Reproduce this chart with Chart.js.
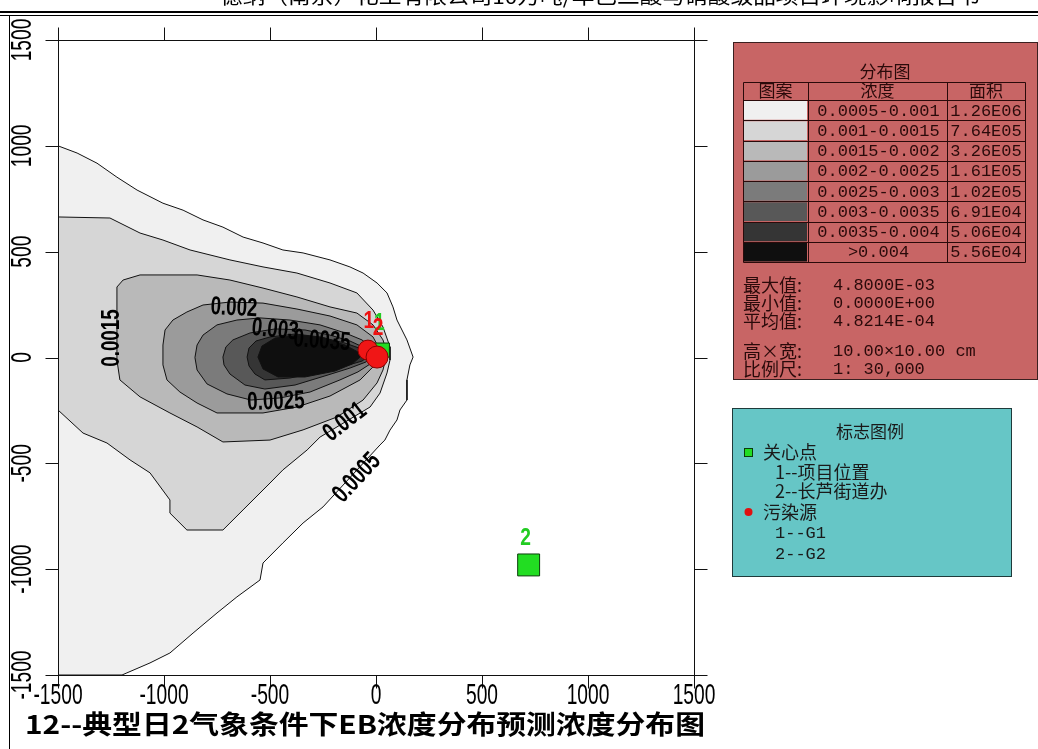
<!DOCTYPE html>
<html>
<head>
<meta charset="utf-8">
<script src="https://cdn.jsdelivr.net/npm/chart.js"></script>
<style>
  html, body { margin: 0; padding: 0; background: #fff; overflow: hidden; }
  canvas { display: block; }
</style>
</head>
<body>
<canvas id="map" width="1038" height="749"></canvas>
<script>
// ======= DATA =======
const xTicks = [-1500, -1000, -500, 0, 500, 1000, 1500];
const yTicks = [-1500, -1000, -500, 0, 500, 1000, 1500];

const contourLevels = ['0.0005', '0.001', '0.0015', '0.002', '0.0025', '0.003', '0.0035', '0.004'];

// contour outlines, in metres
const contour0005 = [[-1500,1000],[-1410,966],[-1316,918],[-1222,852],[-1127,791],[-1005,729],[-910,696],[-816,650],[-722,616],[-627,569],[-533,541],[-439,508],[-344,494],[-217,461],[-123,428],[-61,399],[5,352],[52,305],[80,239],[99,177],[146,83],[175,2],[160,-35],[146,-106],[146,-201],[113,-248],[99,-295],[66,-343],[42,-390],[19,-413],[-250,-706],[-344,-782],[-439,-876],[-533,-971],[-547,-1051],[-656,-1131],[-750,-1207],[-863,-1302],[-972,-1396],[-1066,-1443],[-1175,-1490],[-1198,-1500],[-1500,-1500]];
const contour001 = [[-1500,664],[-1255,659],[-1113,588],[-1005,555],[-877,508],[-689,461],[-533,428],[-373,399],[-217,352],[-90,305],[-14,224],[33,144],[66,50],[66,-12],[52,-73],[19,-168],[-28,-234],[-146,-305],[-264,-376],[-325,-437],[-439,-531],[-500,-593],[-627,-720],[-689,-782],[-722,-815],[-892,-815],[-972,-735],[-972,-673],[-1066,-545],[-1160,-484],[-1269,-404],[-1382,-357],[-1500,-248]];
const contour0015 = [[-1222,333],[-1193,366],[-1113,390],[-844,390],[-689,366],[-533,328],[-373,286],[-217,239],[-90,210],[-14,154],[33,83],[52,21],[33,-59],[5,-120],[-61,-201],[-184,-281],[-344,-342],[-500,-390],[-722,-399],[-844,-328],[-972,-262],[-1113,-186],[-1208,-106],[-1222,-12]];
const contour002 = [[-1005,59],[-995,130],[-958,177],[-892,215],[-816,248],[-689,262],[-533,257],[-373,229],[-217,196],[-90,154],[-14,97],[19,35],[-5,-35],[-75,-106],[-217,-182],[-373,-234],[-533,-262],[-750,-262],[-844,-215],[-925,-163],[-986,-106],[-1005,-35]];
const contour0025 = [[-854,0],[-844,59],[-816,106],[-750,154],[-656,177],[-547,187],[-406,177],[-264,154],[-146,116],[-66,83],[-19,45],[-9,7],[-28,-31],[-85,-68],[-170,-106],[-311,-163],[-453,-191],[-590,-201],[-703,-172],[-797,-125],[-844,-59]];
const contour003 = [[-722,2],[-708,50],[-675,83],[-594,116],[-476,135],[-335,130],[-217,106],[-123,78],[-52,45],[-19,12],[-47,-21],[-123,-50],[-241,-87],[-382,-130],[-524,-149],[-618,-130],[-689,-78],[-717,-35]];
const contour0035 = [[-608,2],[-599,45],[-566,78],[-500,97],[-382,111],[-264,97],[-146,68],[-66,40],[-28,12],[-66,-17],[-146,-40],[-264,-68],[-406,-97],[-524,-106],[-571,-78],[-599,-40]];
const contour004 = [[-557,2],[-538,54],[-476,92],[-358,106],[-241,92],[-146,59],[-85,26],[-75,2],[-113,-31],[-193,-64],[-335,-92],[-462,-92],[-533,-54]];
const contours = [contour0005, contour001, contour0015, contour002, contour0025, contour003, contour0035, contour004];

// contour line labels
const labelText = ['0.0005', '0.001', '0.0015', '0.002', '0.003', '0.0035', '0.0025'];
const labelX = [-90, -146, -1245, -670, -476, -255, -472];
const labelY = [-569, -305, 92, 234, 130, 78, -210];
const labelAngle = [-47, -38, -90, 3, 6, 4, -2];

// marked points
const careNames = ['1', '2'];
const careX = [30, 720];
const careY = [35, -980];
const sourceNames = ['1', '2'];
const sourceX = [-38, 5];
const sourceY = [35, 2];

// legend table
const legendRanges = ['0.0005-0.001', '0.001-0.0015', '0.0015-0.002', '0.002-0.0025', '0.0025-0.003', '0.003-0.0035', '0.0035-0.004', '>0.004'];
const legendAreas = ['1.26E06', '7.64E05', '3.26E05', '1.61E05', '1.02E05', '6.91E04', '5.06E04', '5.56E04'];
const statLabels = ['最大值:', '最小值:', '平均值:'];
const statValues = ['4.8000E-03', '0.0000E+00', '4.8214E-04'];
const sizeLabels = ['高×宽:', '比例尺:'];
const sizeValues = ['10.00×10.00 cm', '1: 30,000'];
const markLegend = ['关心点', '1--项目位置', '2--长芦街道办', '污染源', '1--G1', '2--G2'];

const headerText = '德纳（南京）化工有限公司10万吨/年己二酸与硝酸级品项目环境影响报告书';
const titleText = '12--典型日2气象条件下EB浓度分布预测浓度分布图';

// ======= STYLES =======
const fillColors = ['#f0f0f0', '#d6d6d6', '#b9b9b9', '#9b9b9b', '#7b7b7b', '#585858', '#353535', '#0f0f0f'];
const NUM_FONT = '"Liberation Sans", Arial, sans-serif';
const CJK_FONT = '"Noto Sans CJK SC", sans-serif';
const MONO_FONT = '"Liberation Mono", "DejaVu Sans Mono", monospace';

// narrow text helper (the original uses a tall condensed face)
function narrowText(ctx, text, x, y, font, sx, rot, color, baseline) {
  ctx.save();
  ctx.translate(x, y);
  if (rot) ctx.rotate(rot * Math.PI / 180);
  ctx.scale(sx, 1);
  ctx.font = font;
  ctx.fillStyle = color || '#000';
  ctx.textAlign = 'center';
  ctx.textBaseline = baseline || 'alphabetic';
  ctx.fillText(text, 0, 0);
  ctx.restore();
}

function fitText(ctx, text, x, y, font, width, color) {
  ctx.save();
  ctx.font = font;
  const w = ctx.measureText(text).width;
  ctx.translate(x, y);
  ctx.scale(width / w, 1);
  ctx.fillStyle = color || '#000';
  ctx.textAlign = 'left';
  ctx.textBaseline = 'alphabetic';
  ctx.fillText(text, 0, 0);
  ctx.restore();
}

// ======= DATASETS =======
const datasets = [];
contours.forEach(function(poly, i) {
  const pts = poly.concat([poly[0]]).map(p => ({ x: p[0], y: p[1] }));
  datasets.push({
    type: 'line',
    label: contourLevels[i],
    data: pts,
    fill: 'shape',
    backgroundColor: fillColors[i],
    borderColor: '#111',
    borderWidth: 1,
    pointRadius: 0,
    tension: 0,
    order: 20 - i
  });
});
datasets.push({
  type: 'scatter',
  label: '关心点',
  data: careX.map((x, i) => ({ x: x, y: careY[i] })),
  pointStyle: 'rect',
  pointRadius: [10, 15.5],
  backgroundColor: '#22dd22',
  borderColor: '#0b3d0b',
  borderWidth: 1,
  order: 2
});
datasets.push({
  type: 'scatter',
  label: '污染源',
  data: sourceX.map((x, i) => ({ x: x, y: sourceY[i] })),
  pointStyle: 'circle',
  pointRadius: [10, 11],
  backgroundColor: '#f01616',
  borderColor: '#8a0000',
  borderWidth: 1,
  order: 1
});

// ======= DECORATION PLUGIN =======
const decorPlugin = {
  id: 'decor',
  afterDraw(chart) {
    const ctx = chart.ctx;
    const a = chart.chartArea;
    const xs = chart.scales.x, ys = chart.scales.y;
    const L = Math.round(a.left) + 0.5, R = Math.round(a.right) + 0.5;
    const T = Math.round(a.top) + 0.5, B = Math.round(a.bottom) + 0.5;

    ctx.save();
    // page header (cut off)
    fitText(ctx, headerText, 220, 4, '20px ' + CJK_FONT, 760, '#000');
    ctx.fillStyle = '#000';
    ctx.fillRect(0, 11, 1038, 2);
    ctx.fillRect(0, 15, 1038, 1);
    ctx.fillRect(9, 15, 1, 734);

    // frame and ticks
    ctx.strokeStyle = '#111';
    ctx.lineWidth = 1;
    ctx.strokeRect(L, T, R - L, B - T);
    ctx.beginPath();
    xTicks.forEach(function(v) {
      const px = Math.round(xs.getPixelForValue(v)) + 0.5;
      ctx.moveTo(px, T - 13); ctx.lineTo(px, T);
      ctx.moveTo(px, B); ctx.lineTo(px, B + 13);
    });
    yTicks.forEach(function(v) {
      const py = Math.round(ys.getPixelForValue(v)) + 0.5;
      ctx.moveTo(L - 13, py); ctx.lineTo(L, py);
      ctx.moveTo(R, py); ctx.lineTo(R + 13, py);
    });
    ctx.stroke();

    // tick labels
    xTicks.forEach(function(v) {
      narrowText(ctx, String(v), xs.getPixelForValue(v), 704, '30px ' + NUM_FONT, 0.64, 0, '#000');
    });
    yTicks.forEach(function(v) {
      narrowText(ctx, String(v), 31, ys.getPixelForValue(v), '30px ' + NUM_FONT, 0.64, -90, '#000');
    });

    // contour labels
    labelText.forEach(function(t, i) {
      narrowText(ctx, t, xs.getPixelForValue(labelX[i]), ys.getPixelForValue(labelY[i]),
        'bold 26px ' + NUM_FONT, 0.72, labelAngle[i], '#000', 'middle');
    });

    // point labels
    const careMeta = chart.getDatasetMeta(contours.length);
    const srcMeta = chart.getDatasetMeta(contours.length + 1);
    careMeta.data.forEach(function(el, i) {
      narrowText(ctx, careNames[i], el.x - 3, el.y - 27, 'bold 24px ' + NUM_FONT, 0.8, 0, '#22cc22', 'middle');
    });
    srcMeta.data.forEach(function(el, i) {
      narrowText(ctx, sourceNames[i], el.x + 1, el.y - 29, 'bold 24px ' + NUM_FONT, 0.8, 0, '#ee1111', 'middle');
    });

    // title
    fitText(ctx, titleText, 25, 734, 'bold 26px ' + CJK_FONT, 680, '#000');

    // ======= DISTRIBUTION LEGEND (red panel) =======
    ctx.fillStyle = '#c86565';
    ctx.fillRect(733, 42, 305, 338);
    ctx.strokeStyle = '#3a2020';
    ctx.strokeRect(733.5, 42.5, 304, 337);

    const txt = '#2a0a0a';
    ctx.fillStyle = txt;
    ctx.textBaseline = 'middle';
    ctx.textAlign = 'center';
    ctx.font = '17px ' + CJK_FONT;
    ctx.fillText('分布图', 885, 72);

    const cx = [743, 808, 947, 1025];
    const top = 82, headH = 18, rowH = 20.25;
    const bottom = top + headH + rowH * legendRanges.length;
    legendRanges.forEach(function(r, i) {
      const y = top + headH + i * rowH;
      ctx.fillStyle = fillColors[i];
      ctx.fillRect(cx[0] + 1, y + 1, cx[1] - cx[0] - 2, rowH - 1.5);
    });
    ctx.strokeStyle = '#2a0a0a';
    ctx.beginPath();
    ctx.rect(cx[0] + 0.5, top + 0.5, cx[3] - cx[0], bottom - top);
    [cx[1], cx[2]].forEach(function(x) { ctx.moveTo(x + 0.5, top); ctx.lineTo(x + 0.5, bottom); });
    for (let i = 0; i < legendRanges.length; i++) {
      const y = Math.round(top + headH + i * rowH) + 0.5;
      ctx.moveTo(cx[0], y); ctx.lineTo(cx[3], y);
    }
    ctx.stroke();

    ctx.fillStyle = txt;
    ctx.font = '17px ' + CJK_FONT;
    ctx.fillText('图案', (cx[0] + cx[1]) / 2, top + 9);
    ctx.fillText('浓度', (cx[1] + cx[2]) / 2, top + 9);
    ctx.fillText('面积', (cx[2] + cx[3]) / 2, top + 9);
    ctx.font = '17px ' + MONO_FONT;
    legendRanges.forEach(function(r, i) {
      const y = top + headH + i * rowH + rowH / 2 + 1;
      ctx.fillText(r, (cx[1] + cx[2]) / 2 + 1, y);
      ctx.fillText(legendAreas[i], (cx[2] + cx[3]) / 2, y);
    });

    ctx.textAlign = 'left';
    const statY = [285, 303, 321];
    statLabels.forEach(function(s, i) {
      ctx.font = '18px ' + CJK_FONT;
      ctx.fillText(s, 743, statY[i]);
      ctx.font = '17px ' + MONO_FONT;
      ctx.fillText(statValues[i], 833, statY[i]);
    });
    const sizeY = [351, 369];
    sizeLabels.forEach(function(s, i) {
      ctx.font = '18px ' + CJK_FONT;
      ctx.fillText(s, 743, sizeY[i]);
      ctx.font = '17px ' + MONO_FONT;
      ctx.fillText(sizeValues[i], 833, sizeY[i]);
    });

    // ======= MARKER LEGEND (teal panel) =======
    ctx.fillStyle = '#66c6c6';
    ctx.fillRect(732, 408, 280, 169);
    ctx.strokeStyle = '#1f3a3a';
    ctx.strokeRect(732.5, 408.5, 279, 168);

    ctx.fillStyle = '#1a1a1a';
    ctx.textAlign = 'center';
    ctx.font = '17px ' + CJK_FONT;
    ctx.fillText('标志图例', 870, 432);

    ctx.fillStyle = '#22dd22';
    ctx.fillRect(745, 449, 7, 7);
    ctx.strokeStyle = '#0b3d0b';
    ctx.strokeRect(744.5, 448.5, 8, 8);
    ctx.fillStyle = '#e01010';
    ctx.beginPath(); ctx.arc(748.5, 512, 4, 0, Math.PI * 2); ctx.fill();

    ctx.fillStyle = '#1a1a1a';
    ctx.textAlign = 'left';
    const mkX = [763, 775, 775, 763, 775, 775];
    const mkY = [452, 472, 491, 512, 533, 554];
    markLegend.forEach(function(s, i) {
      ctx.font = (/G\d/.test(s) ? '17px ' + MONO_FONT : '18px ' + CJK_FONT);
      ctx.fillText(s, mkX[i], mkY[i]);
    });
    ctx.restore();
  }
};

// ======= CHART =======
const chart = new Chart(document.getElementById('map').getContext('2d'), {
  type: 'scatter',
  data: { datasets: datasets },
  options: {
    responsive: false,
    devicePixelRatio: 1,
    animation: false,
    events: [],
    layout: { padding: { left: 58, top: 40, right: 344, bottom: 74 } },
    plugins: { legend: { display: false }, tooltip: { enabled: false } },
    scales: {
      x: { type: 'linear', min: -1500, max: 1500, display: false },
      y: { type: 'linear', min: -1500, max: 1500, display: false }
    }
  },
  plugins: [decorPlugin]
});
</script>
</body>
</html>
